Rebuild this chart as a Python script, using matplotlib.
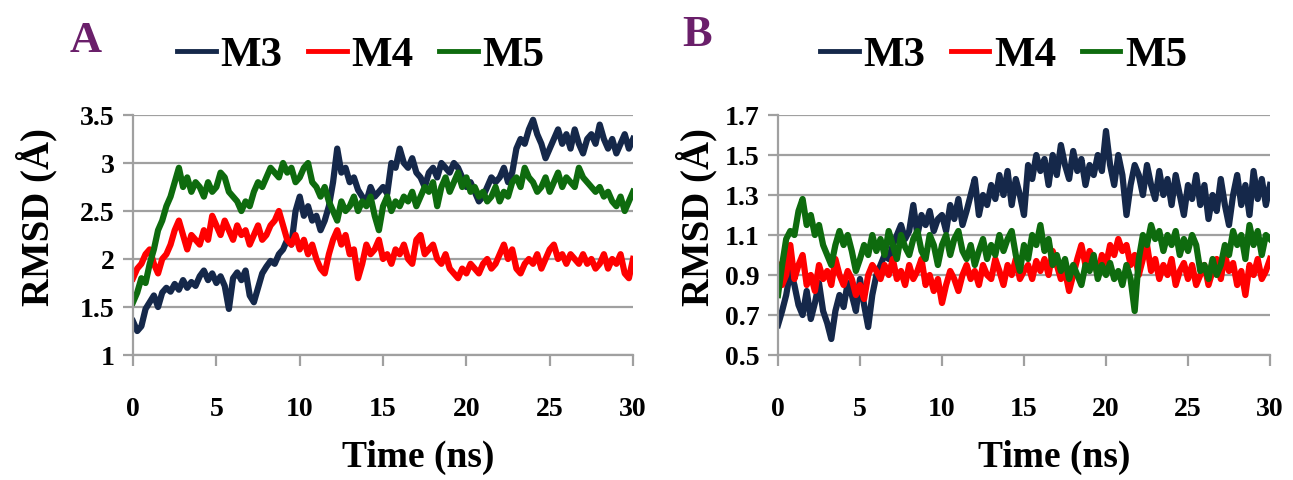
import numpy as np
import matplotlib
matplotlib.use("Agg")
import matplotlib.pyplot as plt

# time axis, one value every 0.25 ns
t = np.arange(121) * 0.25

# panel A
a_m3 = [1.35, 1.25, 1.30, 1.48, 1.55, 1.62, 1.50, 1.65,
        1.70, 1.66, 1.74, 1.68, 1.78, 1.70, 1.76, 1.72,
        1.82, 1.88, 1.78, 1.85, 1.75, 1.82, 1.72, 1.48,
        1.80, 1.86, 1.78, 1.88, 1.62, 1.55, 1.70, 1.85,
        1.92, 1.98, 1.95, 2.05, 2.10, 2.20, 2.15, 2.50,
        2.65, 2.45, 2.55, 2.40, 2.45, 2.30, 2.40, 2.55,
        2.80, 3.15, 2.90, 2.95, 2.80, 2.85, 2.72, 2.65,
        2.60, 2.75, 2.65, 2.70, 2.75, 2.68, 3.00, 2.95,
        3.15, 3.00, 2.95, 3.05, 2.90, 2.85, 2.75, 2.90,
        2.95, 2.85, 3.00, 2.95, 2.90, 3.00, 2.95, 2.85,
        2.75, 2.80, 2.70, 2.60, 2.65, 2.75, 2.85, 2.80,
        2.85, 2.95, 2.80, 2.90, 3.15, 3.25, 3.20, 3.35,
        3.45, 3.30, 3.20, 3.05, 3.15, 3.25, 3.35, 3.20,
        3.30, 3.15, 3.35, 3.20, 3.10, 3.25, 3.30, 3.20,
        3.40, 3.25, 3.15, 3.25, 3.10, 3.20, 3.30, 3.15,
        3.25]
a_m4 = [1.80, 1.90, 1.95, 2.05, 2.10, 1.95, 1.85, 2.00,
        2.05, 2.15, 2.30, 2.40, 2.25, 2.10, 2.25, 2.20,
        2.15, 2.30, 2.20, 2.45, 2.35, 2.25, 2.40, 2.30,
        2.20, 2.35, 2.25, 2.30, 2.15, 2.25, 2.35, 2.20,
        2.25, 2.35, 2.40, 2.50, 2.35, 2.20, 2.15, 2.25,
        2.10, 2.20, 2.05, 2.15, 2.00, 1.90, 1.85, 2.05,
        2.20, 2.30, 2.15, 2.25, 2.05, 2.10, 1.80, 1.95,
        2.15, 2.05, 2.10, 2.20, 2.00, 2.05, 1.95, 2.10,
        2.05, 2.15, 2.00, 1.95, 2.20, 2.25, 2.05, 2.10,
        2.15, 2.00, 1.95, 2.05, 1.90, 1.85, 1.80, 1.90,
        1.85, 1.95, 1.90, 1.85, 1.95, 2.00, 1.90, 1.95,
        2.05, 2.15, 2.00, 2.10, 1.90, 1.85, 1.95, 2.00,
        1.95, 2.05, 1.90, 2.00, 2.10, 2.15, 2.00, 2.05,
        1.95, 2.05, 2.00, 1.95, 2.05, 1.95, 2.00, 1.90,
        1.95, 2.05, 1.90, 2.00, 1.95, 2.05, 1.85, 1.80,
        2.00]
a_m5 = [1.55, 1.65, 1.80, 1.75, 1.95, 2.10, 2.30, 2.40,
        2.55, 2.65, 2.80, 2.95, 2.75, 2.85, 2.70, 2.80,
        2.75, 2.65, 2.80, 2.70, 2.75, 2.90, 2.85, 2.70,
        2.65, 2.60, 2.50, 2.60, 2.55, 2.70, 2.80, 2.75,
        2.85, 2.95, 2.90, 2.85, 3.00, 2.90, 2.95, 2.80,
        2.85, 2.95, 3.00, 2.80, 2.75, 2.65, 2.75, 2.60,
        2.50, 2.40, 2.60, 2.50, 2.55, 2.65, 2.50, 2.60,
        2.55, 2.65, 2.45, 2.30, 2.55, 2.65, 2.50, 2.60,
        2.55, 2.65, 2.60, 2.70, 2.55, 2.65, 2.75, 2.70,
        2.80, 2.55, 2.75, 2.85, 2.70, 2.80, 2.90, 2.75,
        2.85, 2.70, 2.75, 2.65, 2.70, 2.60, 2.65, 2.75,
        2.60, 2.70, 2.65, 2.80, 2.85, 2.75, 2.95, 2.85,
        2.80, 2.70, 2.75, 2.85, 2.70, 2.80, 2.90, 2.75,
        2.85, 2.80, 2.75, 2.95, 2.85, 2.80, 2.75, 2.70,
        2.75, 2.65, 2.70, 2.60, 2.55, 2.65, 2.50, 2.60,
        2.70]

# panel B
b_m3 = [0.65, 0.72, 0.80, 0.92, 0.85, 0.75, 0.70, 0.82,
        0.68, 0.76, 0.86, 0.72, 0.66, 0.58, 0.72, 0.80,
        0.74, 0.86, 0.80, 0.72, 0.88, 0.75, 0.64, 0.80,
        0.90, 0.95, 1.00, 0.98, 1.05, 1.10, 1.15, 1.08,
        1.12, 1.25, 1.10, 1.20, 1.15, 1.22, 1.12, 1.18,
        1.20, 1.12, 1.25, 1.18, 1.28, 1.15, 1.22, 1.30,
        1.38, 1.20, 1.30, 1.25, 1.35, 1.28, 1.40, 1.30,
        1.42, 1.25, 1.38, 1.30, 1.20, 1.45, 1.38, 1.50,
        1.42, 1.48, 1.35, 1.50, 1.40, 1.55, 1.45, 1.38,
        1.52, 1.42, 1.48, 1.35, 1.45, 1.40, 1.50, 1.42,
        1.62, 1.45, 1.35, 1.50, 1.40, 1.20, 1.35, 1.45,
        1.40, 1.30, 1.45, 1.35, 1.28, 1.42, 1.30, 1.38,
        1.25, 1.40, 1.30, 1.20, 1.35, 1.28, 1.40, 1.25,
        1.35, 1.18, 1.30, 1.22, 1.38, 1.25, 1.15, 1.30,
        1.40, 1.25, 1.35, 1.20, 1.42, 1.28, 1.38, 1.25,
        1.35]
b_m4 = [0.95, 0.85, 0.90, 1.05, 0.88, 0.95, 1.00, 0.85,
        0.90, 0.82, 0.95, 0.88, 0.92, 0.85, 0.98, 0.90,
        0.85, 0.92, 0.88, 0.80, 0.85, 0.78, 0.90, 0.95,
        0.92, 0.88, 0.95, 0.90, 0.98, 0.88, 0.92, 0.85,
        0.95, 0.88, 0.92, 0.98, 0.85, 0.90, 0.82, 0.88,
        0.76, 0.85, 0.92, 0.88, 0.82, 0.90, 0.95, 0.88,
        0.92, 0.85, 0.95, 0.90, 0.88, 0.98, 0.92, 0.85,
        0.95, 0.90, 0.98, 0.88, 0.92, 0.95, 0.88, 0.97,
        0.92, 0.98, 0.90, 1.02, 0.95, 0.88, 0.92, 0.82,
        0.90, 0.98, 1.05, 0.95, 1.02, 0.98, 0.90, 1.00,
        0.95, 1.05, 1.00, 1.08, 1.02, 1.05, 0.95, 1.00,
        0.90, 0.98, 1.05, 0.92, 0.98, 0.88, 0.95, 0.90,
        0.98, 0.85, 0.92, 0.96, 0.88, 0.95, 0.85, 0.90,
        0.95, 0.85, 0.92, 0.98, 0.88, 1.00, 0.92, 0.96,
        0.85, 0.92, 0.80, 0.95, 0.90, 0.98, 0.88, 0.92,
        0.98]
b_m5 = [0.80, 0.95, 1.08, 1.12, 1.10, 1.22, 1.28, 1.15,
        1.20, 1.10, 1.15, 1.05, 1.00, 0.95, 1.05, 1.12,
        1.05, 1.10, 1.02, 0.92, 0.98, 1.05, 1.00, 1.10,
        1.02, 1.08, 1.00, 1.12, 1.05, 0.98, 1.10, 1.04,
        1.00, 1.08, 1.12, 1.02, 0.98, 1.10, 1.05, 0.95,
        1.05, 1.10, 1.00, 1.08, 1.12, 1.02, 0.98, 1.05,
        0.95, 1.02, 1.08, 0.98, 1.05, 1.00, 1.10, 1.02,
        1.08, 1.12, 1.00, 0.92, 1.05, 0.98, 1.10, 1.05,
        1.15, 1.02, 1.08, 0.95, 1.00, 0.92, 0.98, 0.88,
        0.95, 0.90, 0.85, 0.95, 0.92, 1.00, 0.88, 0.95,
        0.90, 0.96, 0.88, 0.92, 0.85, 0.95, 0.88, 0.72,
        0.98, 1.10, 1.05, 1.15, 1.08, 1.12, 1.02, 1.10,
        1.05, 1.12, 1.00, 1.08, 1.02, 1.10, 1.05, 0.92,
        0.95, 0.88, 0.98, 0.90, 0.95, 1.05, 1.00, 1.12,
        1.05, 1.10, 0.98, 1.15, 1.05, 1.12, 1.00, 1.10,
        1.08]

names = ["M3", "M4", "M5"]
colors = ["#15284a", "#ff0000", "#0e6b0e"]
grid_c = "#a0a0a0"

plt.rcParams["font.family"] = ["Liberation Serif", "DejaVu Serif"]
plt.rcParams["font.weight"] = "bold"

fig = plt.figure(figsize=(12.93, 4.8), dpi=100)

# axes boxes and label positions are in figure fractions
panels = [
    dict(rect=[0.1029, 0.2604, 0.3867, 0.5], series=[a_m3, a_m4, a_m5],
         ylim=(1, 3.5), yticks=[1, 1.5, 2, 2.5, 3, 3.5],
         yfmt=["1", "1.5", "2", "2.5", "3", "3.5"],
         letter="A", lx=0.066, ly=0.915, legx=0.279,
         xlab=(0.3233, 0.048), ylab=(0.0286, 0.548)),
    dict(rect=[0.6017, 0.2604, 0.3805, 0.5], series=[b_m3, b_m4, b_m5],
         ylim=(0.5, 1.7), yticks=[0.5, 0.7, 0.9, 1.1, 1.3, 1.5, 1.7],
         yfmt=["0.5", "0.7", "0.9", "1.1", "1.3", "1.5", "1.7"],
         letter="B", lx=0.539, ly=0.928, legx=0.776,
         xlab=(0.8151, 0.048), ylab=(0.539, 0.548)),
]

for p in panels:
    ax = fig.add_axes(p["rect"])
    for vals, name, c in zip(p["series"], names, colors):
        ax.plot(t, vals, color=c, lw=4.5, label=name)
    ax.set_xlim(0, 30)
    ax.set_ylim(*p["ylim"])
    ax.set_xticks([0, 5, 10, 15, 20, 25, 30])
    ax.set_yticks(p["yticks"])
    ax.set_yticklabels(p["yfmt"])
    ax.yaxis.grid(True, color=grid_c, lw=1.6)
    ax.set_axisbelow(True)
    for s in ["top", "right"]:
        ax.spines[s].set_visible(False)
    for s in ["left", "bottom"]:
        ax.spines[s].set_color(grid_c)
        ax.spines[s].set_linewidth(1.6)
    ax.tick_params(axis="x", direction="out", length=8, width=1.6, color=grid_c,
                   pad=22, labelsize=20)
    ax.tick_params(axis="y", direction="out", length=7, width=1.6, color=grid_c,
                   pad=6, labelsize=20)
    ax.set_xlabel("Time (ns)", fontsize=27, fontweight="bold", va="center")
    ax.xaxis.set_label_coords(*p["xlab"], transform=fig.transFigure)
    ax.set_ylabel("RMSD (Å)", fontsize=28, fontweight="bold", va="center", ha="center")
    ax.yaxis.set_label_coords(*p["ylab"], transform=fig.transFigure)
    leg = fig.legend(*ax.get_legend_handles_labels(), loc="center",
                     bbox_to_anchor=(p["legx"], 0.885), ncol=3, frameon=False,
                     handlelength=0.9, handletextpad=0.1, columnspacing=0.6,
                     prop={"size": 31, "weight": "bold"})
    for h in leg.get_lines():
        h.set_linewidth(3.5)
    fig.text(p["lx"], p["ly"], p["letter"], color="#6a1f6a", fontsize=32,
             fontweight="bold", ha="center", va="center")

fig.savefig("out.png", dpi=100)
